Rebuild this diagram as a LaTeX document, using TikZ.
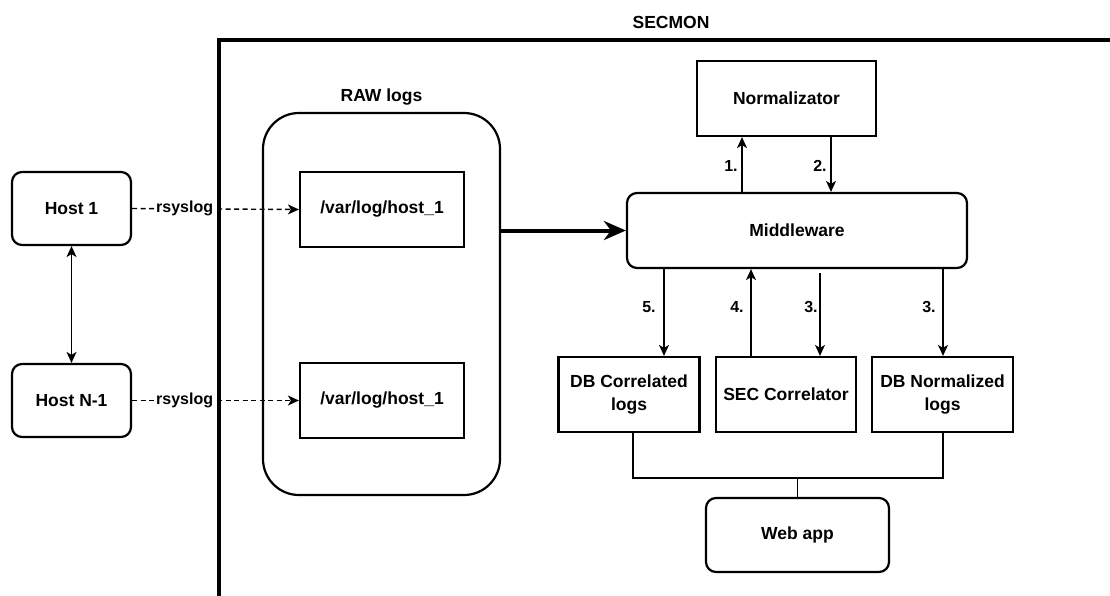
\documentclass[tikz,border=0pt]{standalone}
\usepackage{fontspec}
\setmainfont{Liberation Sans}
\usetikzlibrary{arrows.meta}
\begin{document}
\begin{tikzpicture}[x=1pt,y=-1pt,
  font=\fontsize{17.5}{22.5}\selectfont\bfseries,
  box/.style={draw, line width=2.2pt, fill=white, inner sep=0pt, align=center},
  rbox/.style={box, rounded corners=10pt},
  conn/.style={line width=1.4pt, -{Stealth[length=11pt,width=10pt,inset=3pt]}},
  both/.style={line width=1.4pt, {Stealth[length=11pt,width=10pt,inset=3pt]}-{Stealth[length=11pt,width=10pt,inset=3pt]}},
  syslog/.style={line width=1.4pt, dash pattern=on 5pt off 3.5pt, -{Stealth[length=11pt,width=10pt,inset=3pt]}},
  bus/.style={line width=1.3pt},
  lbl/.style={font=\fontsize{16}{18}\selectfont\bfseries, inner sep=1pt},
  title/.style={inner sep=0pt}
]
\useasboundingbox (0,0) rectangle (1110,596);
\clip (0,0) rectangle (1110,596);

% outer system frame
\draw[line width=3.5pt] (1130,40) -| (219,620);
\node[title] (secmon) at (671,22) {SECMON};

% raw log storage
\node[title] (rawlbl) at (381.5,97) {RAW logs};
\node[box, rounded corners=36pt, minimum width=237pt, minimum height=382pt] (raw) at (381.5,304) {};
\node[box, minimum width=164pt, minimum height=75pt] (var1) at (382,209.5) {/var/log/host\_1};
\node[box, minimum width=164pt, minimum height=75pt] (var2) at (382,400.5) {/var/log/host\_1};

% hosts
\node[rbox, minimum width=119pt, minimum height=73pt] (host1) at (71.5,208.5) {Host 1};
\node[rbox, minimum width=119pt, minimum height=73pt] (hostn) at (71.5,400.5) {Host N-1};

% processing
\node[box, minimum width=179pt, minimum height=75pt] (norm) at (786.5,98.5) {Normalizator};
\node[rbox, minimum width=340pt, minimum height=75pt] (mw) at (797,230.5) {Middleware};
\node[box, minimum width=141pt, minimum height=75pt] (dbc) at (629,394.5) {DB Correlated\\logs};
\node[box, minimum width=140pt, minimum height=75pt] (sec) at (786,394.5) {SEC Correlator};
\node[box, minimum width=141pt, minimum height=75pt] (dbn) at (942.5,394.5) {DB Normalized\\logs};
\node[rbox, minimum width=183pt, minimum height=74pt] (web) at (797.5,535) {Web app};

% x positions of vertical connectors
\coordinate (x1) at (742,0);
\coordinate (x2) at (831,0);
\coordinate (x5) at (664,0);
\coordinate (x4) at (751,0);
\coordinate (x3a) at (820,0);
\coordinate (x3b) at (943,0);
\coordinate (xb1) at (633,0);
\coordinate (busy) at (0,478);
\coordinate (s3a) at (820,273);

% host links
\draw[both] (host1.south) -- (hostn.north);
\draw[syslog] (host1.east) -- node[lbl, fill=white, pos=0.315] (rs1) {rsyslog} (var1.west);
\draw[syslog] (hostn.east) -- node[lbl, fill=white, pos=0.315] (rs2) {rsyslog} (var2.west);

% raw logs into middleware
\draw[line width=4pt, -{Stealth[length=22pt,width=19pt,inset=7pt]}] (raw.east |- mw.west) -- (mw.west);

% middleware <-> normalizator
\draw[conn] (mw.north -| x1) -- (norm.south -| x1);
\draw[conn] (norm.south -| x2) -- (mw.north -| x2);
\node[lbl] (l1) at (731,166) {1.};
\node[lbl] (l2) at (820,166) {2.};

% middleware <-> storage and correlator
\draw[conn] (mw.south -| x5) -- (dbc.north -| x5);
\draw[conn] (sec.north -| x4) -- (mw.south -| x4);
\draw[conn] (s3a) -- (sec.north -| x3a);
\draw[conn] (mw.south -| x3b) -- (dbn.north -| x3b);
\node[lbl] (l5) at (649,307) {5.};
\node[lbl] (l4) at (737,307) {4.};
\node[lbl] (l3a) at (811,307) {3.};
\node[lbl] (l3b) at (929,307) {3.};

% databases to web app
\draw[bus] (dbc.south -| xb1) -- (xb1 |- busy) -- (x3b |- busy) -- (dbn.south -| x3b);
\draw[bus] (web.north) -- (web.north |- busy);
\end{tikzpicture}
\end{document}
